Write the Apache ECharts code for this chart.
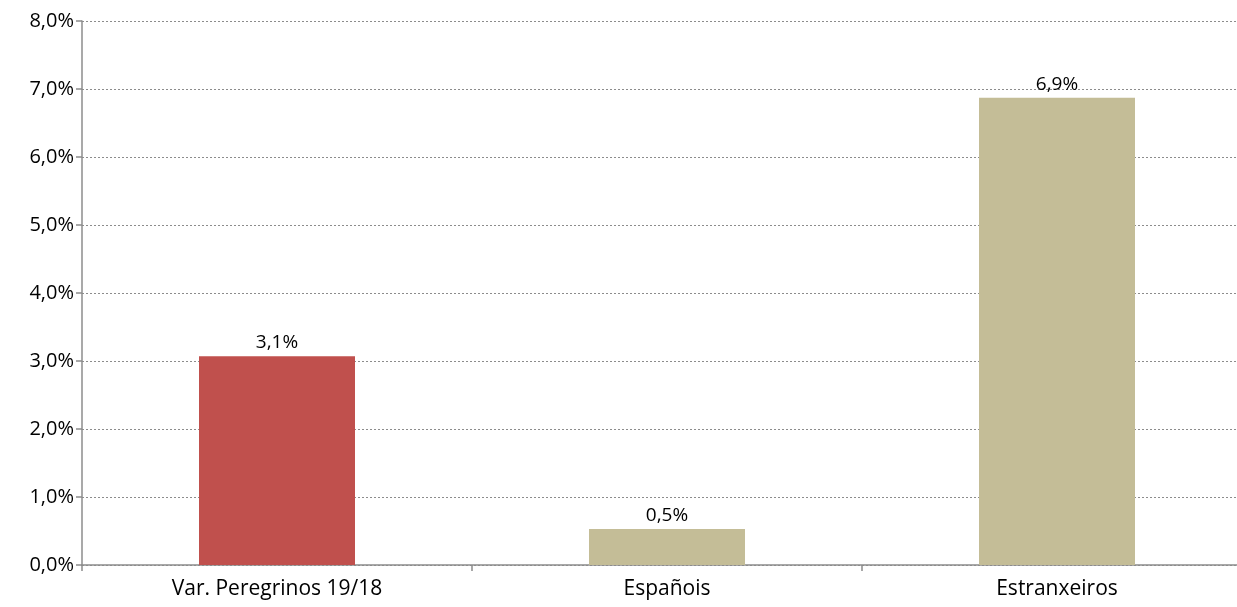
<!DOCTYPE html>
<html>
<head>
<meta charset="utf-8">
<script src="https://cdn.jsdelivr.net/npm/echarts@6/dist/echarts.min.js"></script>
<style>
  html, body { margin: 0; padding: 0; background: #fff; }
  #chart { width: 1237px; height: 607px; }
</style>
</head>
<body>
<div id="chart"></div>
<script>
const categories = ['Var. Peregrinos 19/18', 'Españois', 'Estranxeiros']
const values = [3.07, 0.53, 6.87] // percent
const barColors = ['#C0504D', '#C4BD97', '#C4BD97']
const yTicks = { min: 0, max: 8, interval: 1 }

const fmt = (v, d) => v.toFixed(d).replace('.', ',') + '%'

let myChart = echarts.init(document.getElementById('chart'))

let option = {
  animation: false,
  textStyle: { fontFamily: '"Open Sans", sans-serif' },
  // plot runs past the right edge, like the original
  grid: { left: 82, width: 1170, top: 21, bottom: 42, outerBoundsMode: 'none', containLabel: false },
  xAxis: {
    type: 'category',
    data: categories,
    axisLine: { lineStyle: { color: '#8c8c8c', width: 1.5 } },
    axisTick: { show: true, length: 6, lineStyle: { color: '#8c8c8c', width: 1.5 } },
    axisLabel: { color: '#000', fontSize: 21, margin: 14 },
  },
  yAxis: {
    type: 'value',
    min: yTicks.min,
    max: yTicks.max,
    interval: yTicks.interval,
    axisLine: { show: true, lineStyle: { color: '#8c8c8c', width: 1.5 } },
    axisTick: { show: true, length: 6, lineStyle: { color: '#8c8c8c', width: 1.5 } },
    axisLabel: { color: '#000', fontSize: 20, margin: 8, formatter: v => fmt(v, 1) },
    splitLine: { lineStyle: { color: '#8c8c8c', type: [2, 2], width: 1 } },
  },
  series: [
    {
      type: 'bar',
      barWidth: '40%',
      data: values.map((v, i) => ({ value: v, itemStyle: { color: barColors[i] } })),
      label: {
        show: true,
        position: 'top',
        distance: 4,
        color: '#000',
        fontSize: 19,
        formatter: p => fmt(p.value, 1),
      },
    },
  ],
}

myChart.setOption(option)
</script>
</body>
</html>
